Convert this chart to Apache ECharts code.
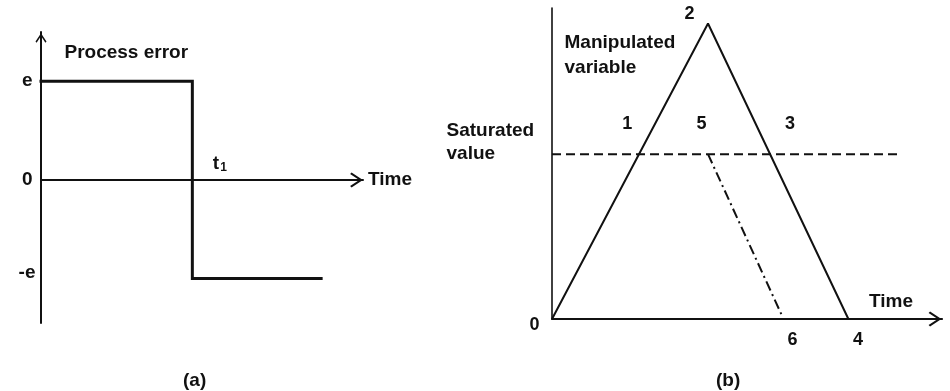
<!DOCTYPE html>
<html>
<head>
<meta charset="utf-8">
<script src="https://cdn.jsdelivr.net/npm/echarts@6/dist/echarts.min.js"></script>
<style>
  html, body { margin: 0; padding: 0; background: #fff; }
  #chart { width: 950px; height: 391px; }
</style>
</head>
<body>
<div id="chart"></div>
<script>
// (a) Process error: +e until t1, then -e
const errorTimes = [0, 4.7, 4.7, 8.7];
const errorValues = [1, 1, -1, -1];
const errorLevels = [1, 0, -1];
const errorLevelNames = ['e', '0', '-e'];
const switchTime = 4.7;

// (b) Manipulated variable: integral ramps up while error is +e, down afterwards
const mvTimes = [0, 4.0, 7.6];
const mvValues = [0, 9.5, 0];
const saturatedValue = 5.3;
const saturatedSpan = [0, 8.9];
const resetTimes = [4.0, 5.9];
const resetValues = [5.3, 0.1];
const stageNames = ['1', '2', '3', '4', '5', '6'];
const stageTimes = [2.2, 4.0, 5.6, 7.6, 4.0, 5.9];
const stageValues = [5.3, 9.5, 5.3, 0, 5.3, 0.1];

const INK = '#111';
const FONT = '"Liberation Sans", Arial, Helvetica, sans-serif';
// open arrow head, tip pointing along the axis
const CHEVRON = 'path://M7,0 L14,10.6 L12.6,12 L7,3.4 L1.4,12 L0,10.6 Z';

// pixel offsets of the stage numbers from their points
const stageLabelOffsets = [[-10, -30], [-18, -9], [20, -30], [10, 22], [-6, -30], [11, 25]];

const baseText = { color: INK, fontFamily: FONT, fontSize: 19, fontWeight: 'bold' };

function hiddenParts() {
  return {
    axisTick: { show: false },
    axisLabel: { show: false },
    splitLine: { show: false }
  };
}

function textPoint(x, y, text, pos, align, extra) {
  return {
    value: [x, y],
    label: Object.assign({
      show: true,
      formatter: text,
      position: pos,
      align: align || 'left',
      verticalAlign: 'middle'
    }, baseText, extra || {})
  };
}

const annotationSeries = (xi, data) => ({
  type: 'scatter',
  xAxisIndex: xi,
  yAxisIndex: xi,
  symbolSize: 1,
  itemStyle: { color: 'rgba(0,0,0,0)', opacity: 1 },
  silent: true,
  z: 5,
  data: data
});

const option = {
  animation: false,
  backgroundColor: '#fff',
  textStyle: { fontFamily: FONT },
  title: [
    { text: '(a)', left: 178, top: 366, textStyle: { color: INK, fontFamily: FONT, fontSize: 19, fontWeight: 'bold' } },
    { text: '(b)', left: 711, top: 366, textStyle: { color: INK, fontFamily: FONT, fontSize: 19, fontWeight: 'bold' } }
  ],
  grid: [
    { left: 41, top: 32, width: 322, height: 291 },
    { left: 552, top: 8, width: 390, height: 311 }
  ],
  xAxis: [
    Object.assign({
      type: 'value', gridIndex: 0, min: 0, max: 10,
      axisLine: {
        symbol: ['none', CHEVRON], symbolSize: [15, 13], symbolOffset: [0, -6.5],
        lineStyle: { color: INK, width: 2 }
      },
      name: 'Time', nameLocation: 'end', nameGap: 5,
      nameTextStyle: Object.assign({}, baseText)
    }, hiddenParts()),
    Object.assign({
      type: 'value', gridIndex: 1, min: 0, max: 10,
      axisLine: {
        symbol: ['none', CHEVRON], symbolSize: [15, 14], symbolOffset: [0, -7],
        lineStyle: { color: INK, width: 2.2 }
      },
      name: 'Time', nameLocation: 'end', nameGap: -29,
      nameTextStyle: Object.assign({ align: 'right', verticalAlign: 'bottom', padding: [0, 0, 8, 0] }, baseText)
    }, hiddenParts())
  ],
  yAxis: [
    Object.assign({
      type: 'value', gridIndex: 0, min: -1.45, max: 1.5,
      axisLine: {
        symbol: ['none', CHEVRON], symbolSize: [11, 12], symbolOffset: [0, -6],
        lineStyle: { color: INK, width: 2 }
      }
    }, hiddenParts()),
    Object.assign({
      type: 'value', gridIndex: 1, min: 0, max: 10,
      axisLine: { lineStyle: { color: INK, width: 1.6 } }
    }, hiddenParts())
  ],
  series: [
    {
      type: 'line', xAxisIndex: 0, yAxisIndex: 0, symbol: 'none', silent: true, z: 3,
      lineStyle: { color: INK, width: 3, cap: 'square', join: 'miter' },
      data: errorTimes.map((t, i) => [t, errorValues[i]])
    },
    annotationSeries(0, [
      ...errorLevels.map((v, i) => textPoint(0, v, errorLevelNames[i], i === 2 ? [-5, -5] : [-8, 0], 'right')),
      textPoint(0, 1.5, 'Process error', [24, 21], 'left'),
      textPoint(switchTime, 0, '{t|t}{s|1}', [21, -16], 'left', {
        rich: {
          t: { fontSize: 19, fontFamily: FONT, fontWeight: 'bold', color: INK },
          s: { fontSize: 12, fontFamily: FONT, fontWeight: 'bold', color: INK, padding: [8, 0, 0, 1] }
        }
      })
    ]),
    {
      type: 'line', xAxisIndex: 1, yAxisIndex: 1, symbol: 'none', silent: true, z: 3,
      lineStyle: { color: INK, width: 2 },
      data: mvTimes.map((t, i) => [t, mvValues[i]])
    },
    {
      type: 'line', xAxisIndex: 1, yAxisIndex: 1, symbol: 'none', silent: true, z: 3,
      lineStyle: { color: INK, width: 2, type: [9, 5] },
      data: saturatedSpan.map(t => [t, saturatedValue])
    },
    {
      type: 'line', xAxisIndex: 1, yAxisIndex: 1, symbol: 'none', silent: true, z: 3,
      lineStyle: { color: INK, width: 2, type: [10, 4, 2, 4] },
      data: resetTimes.map((t, i) => [t, resetValues[i]])
    },
    annotationSeries(1, [
      ...stageNames.map((n, i) => textPoint(stageTimes[i], stageValues[i], n, stageLabelOffsets[i], 'center', { fontSize: 18 })),
      textPoint(0, 10, 'Manipulated\nvariable', [13, 23], 'left', { verticalAlign: 'top', lineHeight: 25 }),
      textPoint(0, saturatedValue, 'Saturated\nvalue', [-105, -34], 'left', { verticalAlign: 'top', lineHeight: 23 }),
      textPoint(0, 0, '0', [-17, 7], 'center', { fontSize: 18 })
    ])
  ]
};

const chart = echarts.init(document.getElementById('chart'), null, { renderer: 'canvas' });
chart.setOption(option);
</script>
</body>
</html>
